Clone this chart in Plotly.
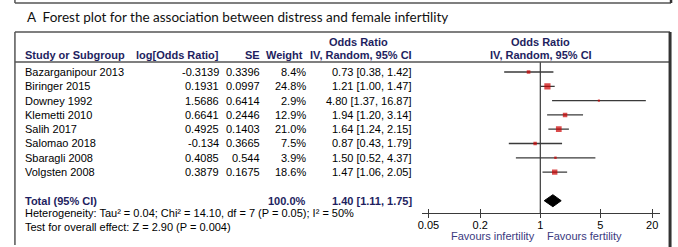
import plotly.graph_objects as go

W, H = 678, 247

title_text = "A  Forest plot for the association between distress and female infertility"
studies = ["Bazarganipour 2013", "Biringer 2015", "Downey 1992", "Klemetti 2010",
           "Salih 2017", "Salomao 2018", "Sbaragli 2008", "Volgsten 2008"]
log_or = [-0.3139, 0.1931, 1.5686, 0.6641, 0.4925, -0.134, 0.4085, 0.3879]
se = [0.3396, 0.0997, 0.6414, 0.2446, 0.1403, 0.3665, 0.544, 0.1675]
weights = [8.4, 24.8, 2.9, 12.9, 21.0, 7.5, 3.9, 18.6]
or_vals = [0.73, 1.21, 4.80, 1.94, 1.64, 0.87, 1.50, 1.47]
ci_lo = [0.38, 1.00, 1.37, 1.20, 1.24, 0.43, 0.52, 1.06]
ci_hi = [1.42, 1.47, 16.87, 3.14, 2.15, 1.79, 4.37, 2.05]
total_label = "Total (95% CI)"
total_weight = 100.0
total_or, total_lo, total_hi = 1.40, 1.11, 1.75
heterogeneity = "Heterogeneity: Tau² = 0.04; Chi² = 14.10, df = 7 (P = 0.05); I² = 50%"
overall = "Test for overall effect: Z = 2.90 (P = 0.004)"
tick_vals = [0.05, 0.2, 1, 5, 20]
tick_text = ["0.05", "0.2", "1", "5", "20"]
favours_left = "Favours infertility"
favours_right = "Favours fertility"

# ---- layout helpers (pixel -> paper) ----
def px(x):
    return x / W

def py(y):
    return 1 - y / H

ROW0, STEP = 72.0, 14.3
total_idx = len(studies) + 1
y_top_px, y_bot_px = 62.0, 213.0
y_range = [(y_bot_px - ROW0) / STEP, (y_top_px - ROW0) / STEP]

NAVY = "#1e1e60"
FONT = "Liberation Sans, Arial, sans-serif"

fig = go.Figure()

# CI lines
cx, cy = [], []
for i, (lo, hi) in enumerate(zip(ci_lo, ci_hi)):
    cx += [lo, hi, None]
    cy += [i, i, None]
fig.add_trace(go.Scatter(x=cx, y=cy, mode="lines",
                         line=dict(color="#3a3a3a", width=1.3),
                         hoverinfo="skip", showlegend=False))
# squares
fig.add_trace(go.Scatter(x=or_vals, y=list(range(len(studies))), mode="markers",
                         marker=dict(symbol="square", color="#cc0000",
                                     size=[1.25 * w ** 0.5 for w in weights],
                                     line=dict(width=0)),
                         showlegend=False))
# diamond
dh = 0.42
fig.add_trace(go.Scatter(x=[total_lo, total_or, total_hi, total_or, total_lo],
                         y=[total_idx, total_idx - dh, total_idx, total_idx + dh, total_idx],
                         mode="lines", fill="toself", fillcolor="black",
                         line=dict(color="black", width=1), showlegend=False))
# dummy trace for crossing ticks axis
fig.add_trace(go.Scatter(x=[1], y=[0], xaxis="x2", yaxis="y", mode="markers",
                         marker=dict(opacity=0), showlegend=False, hoverinfo="skip"))

ax_left, ax_right = 420.0, 660.0
x1_px, ppd = 539.5, 86.5
xr = [(ax_left - x1_px) / ppd, (ax_right - x1_px) / ppd]
xdom = [px(ax_left), px(ax_right)]

axis_common = dict(type="log", range=xr, domain=xdom, showgrid=False, zeroline=False,
                   tickvals=tick_vals, showline=True, linecolor="#3a3a3a", linewidth=1.2,
                   tickcolor="#3a3a3a", tickwidth=1.2, ticklen=4, fixedrange=True)

fig.update_layout(
    width=W, height=H, margin=dict(l=0, r=0, t=0, b=0),
    paper_bgcolor="white", plot_bgcolor="white",
    font=dict(family=FONT, size=11, color="black"),
    xaxis=dict(**axis_common, ticks="outside", ticktext=tick_text,
               tickfont=dict(family=FONT, size=11, color="black"), anchor="y",
               ticklabelstandoff=-2),
    xaxis2=dict(**axis_common, ticks="inside", showticklabels=False,
                overlaying="x", anchor="y"),
    yaxis=dict(range=y_range, domain=[py(y_bot_px), py(y_top_px)], visible=False,
               fixedrange=True),
    showlegend=False,
)

# null line at OR = 1
fig.add_shape(type="line", xref="x", yref="y domain", x0=1, x1=1, y0=0, y1=1,
              line=dict(color="#3a3a3a", width=1.2))

# frame lines
LC = "#555555"
shapes = [
    (11, 3, 671, 3, LC, 1.5),
    (11, 0, 11, 3, LC, 1.5),
    (671, 0, 671, 3, "#333333", 2.5),
    (11, 32, 670, 32, LC, 1.5),
    (11, 62, 670, 62, LC, 1.5),
    (11, 32, 11, 245, LC, 1.5),
    (670, 32, 670, 247, "#333333", 3),
]
for x0, y0, x1, y1, c, w in shapes:
    fig.add_shape(type="line", xref="paper", yref="paper",
                  x0=px(x0), y0=py(y0), x1=px(x1), y1=py(y1), line=dict(color=c, width=w))

def ann(text, x, y, anchor="left", bold=False, color="black", size=11, family=FONT, yref="paper"):
    t = f"<b>{text}</b>" if bold else text
    fig.add_annotation(text=t, x=x, y=y, xref="paper", yref=yref, xanchor=anchor,
                       yanchor="middle", showarrow=False,
                       font=dict(family=family, size=size, color=color), borderpad=0)

# title
ann(title_text, px(22), py(17), size=13.5, family="Lato, Carlito, sans-serif", color="#111111")

# headers
ann("Odds Ratio", px(357), py(42), "center", True, NAVY)
ann("Odds Ratio", px(540), py(42), "center", True, NAVY)
ann("Study or Subgroup", px(20), py(55), "left", True, NAVY)
ann("log[Odds Ratio]", px(217), py(55), "right", True, NAVY)
ann("SE", px(259), py(55), "right", True, NAVY)
ann("Weight", px(302), py(55), "right", True, NAVY)
ann("IV, Random, 95% CI", px(411), py(55), "right", True, NAVY)
ann("IV, Random, 95% CI", px(540), py(55), "center", True, NAVY)

# study rows
for i, s in enumerate(studies):
    ann(s, px(20), i, "left", yref="y")
    ann(str(log_or[i]), px(217), i, "right", yref="y")
    ann(str(se[i]), px(259), i, "right", yref="y")
    ann(f"{weights[i]:.1f}%", px(305), i, "right", yref="y")
    ann(f"{or_vals[i]:.2f} [{ci_lo[i]:.2f}, {ci_hi[i]:.2f}]", px(411), i, "right", yref="y")

# total row
ann(total_label, px(20), total_idx, "left", True, NAVY, yref="y")
ann(f"{total_weight:.1f}%", px(305), total_idx, "right", True, NAVY, yref="y")
ann(f"{total_or:.2f} [{total_lo:.2f}, {total_hi:.2f}]", px(411), total_idx, "right", True, NAVY, yref="y")

ann(heterogeneity, px(20), py(213), "left")
ann(overall, px(20), py(227), "left")

ann(favours_left, px(535), py(236), "right", color="#3a3a80")
ann(favours_right, px(545), py(236), "left", color="#3a3a80")

fig.write_html("out.html", config={"displayModeBar": False},
               post_script="document.body.style.margin='0';document.body.style.padding='0';")
